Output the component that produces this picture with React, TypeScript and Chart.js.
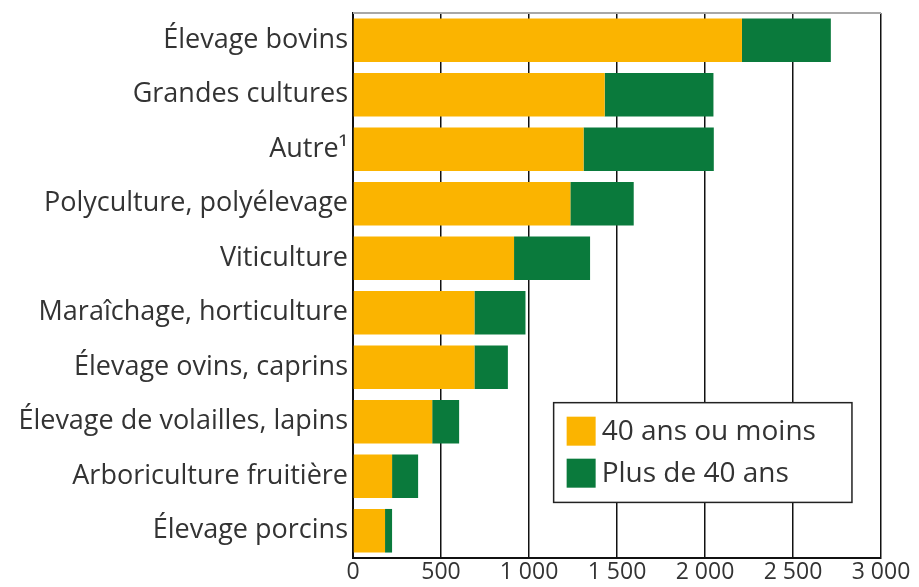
import React, { useEffect, useRef } from "react";
import { Chart, registerables } from "chart.js";

Chart.register(...registerables);

const categories = [
  "Élevage bovins",
  "Grandes cultures",
  "Autre¹",
  "Polyculture, polyélevage",
  "Viticulture",
  "Maraîchage, horticulture",
  "Élevage ovins, caprins",
  "Élevage de volailles, lapins",
  "Arboriculture fruitière",
  "Élevage porcins",
];
const young = [2210, 1430, 1310, 1235, 915, 690, 690, 450, 222, 182];
const older = [505, 618, 740, 360, 432, 290, 190, 153, 148, 40];
const seriesLabels = ["40 ans ou moins", "Plus de 40 ans"];
const xTicks = [0, 500, 1000, 1500, 2000, 2500, 3000];
const tickLabels = ["0", "500", "1 000", "1 500", "2 000", "2 500", "3 000"];

const ORANGE = "#FBB400";
const GREEN = "#0A7A3C";
const FONT = "'Open Sans', sans-serif";

const extrasPlugin = {
  id: "extras",
  afterDatasetsDraw(chart: any) {
    const { ctx, chartArea } = chart;
    const x = chart.scales.x;
    const y = chart.scales.y;
    ctx.save();
    // top border (grey)
    ctx.strokeStyle = "#a8a8a8";
    ctx.lineWidth = 2;
    ctx.beginPath();
    ctx.moveTo(chartArea.left, chartArea.top);
    ctx.lineTo(chartArea.right, chartArea.top);
    ctx.stroke();
    // legend box
    const bx = x.getPixelForValue(1140);
    const bx2 = x.getPixelForValue(2835);
    const by = y.getPixelForValue(6.65);
    const by2 = y.getPixelForValue(8.48);
    ctx.fillStyle = "#ffffff";
    ctx.fillRect(bx, by, bx2 - bx, by2 - by);
    ctx.strokeStyle = "#222";
    ctx.lineWidth = 1.5;
    ctx.strokeRect(bx, by, bx2 - bx, by2 - by);
    const ds = chart.data.datasets;
    ctx.font = `28px ${FONT}`;
    ctx.textBaseline = "middle";
    ds.forEach((d: any, i: number) => {
      const cy = by + 28 + i * 42;
      ctx.fillStyle = d.backgroundColor;
      ctx.fillRect(bx + 13, cy - 14, 29, 29);
      ctx.fillStyle = "#333";
      ctx.fillText(d.label, bx + 48, cy + 1);
    });
    ctx.restore();
  },
};

export default function App() {
  const ref = useRef<HTMLCanvasElement>(null);
  useEffect(() => {
    document.body.style.margin = "0";
    const chart = new Chart(ref.current!, {
      type: "bar",
      data: {
        labels: categories,
        datasets: [
          { label: seriesLabels[0], data: young, backgroundColor: ORANGE, barPercentage: 0.8, categoryPercentage: 1 },
          { label: seriesLabels[1], data: older, backgroundColor: GREEN, barPercentage: 0.8, categoryPercentage: 1 },
        ],
      },
      options: {
        indexAxis: "y",
        animation: false,
        responsive: false,
        layout: { padding: { top: 13, right: 38, left: 0, bottom: 0 } },
        plugins: { legend: { display: false }, tooltip: { enabled: false } },
        scales: {
          x: {
            stacked: true,
            min: 0,
            max: 3000,
            afterBuildTicks: (s: any) => {
              s.ticks = xTicks.map((v) => ({ value: v }));
            },
            afterFit: (s: any) => {
              s.height = 29;
              s.paddingLeft = 0;
              s.paddingRight = 0;
            },
            ticks: {
              callback: (_v: any, i: number) => tickLabels[i],
              color: "#333",
              font: { family: FONT, size: 23 },
              padding: 1,
              maxRotation: 0,
            },
            grid: { color: "#111", lineWidth: 1.5, drawTicks: false },
            border: { color: "#111", width: 2 },
          },
          y: {
            stacked: true,
            afterFit: (s: any) => {
              s.width = 353;
              s.paddingTop = 0;
              s.paddingBottom = 0;
            },
            ticks: {
              color: "#333",
              font: { family: FONT, size: 27 },
              padding: 5,
            },
            grid: { display: false, drawTicks: false },
            border: { color: "#111", width: 2 },
          },
        },
      },
      plugins: [extrasPlugin],
    });
    return () => chart.destroy();
  }, []);
  return <canvas ref={ref} width={919} height={587} />;
}
